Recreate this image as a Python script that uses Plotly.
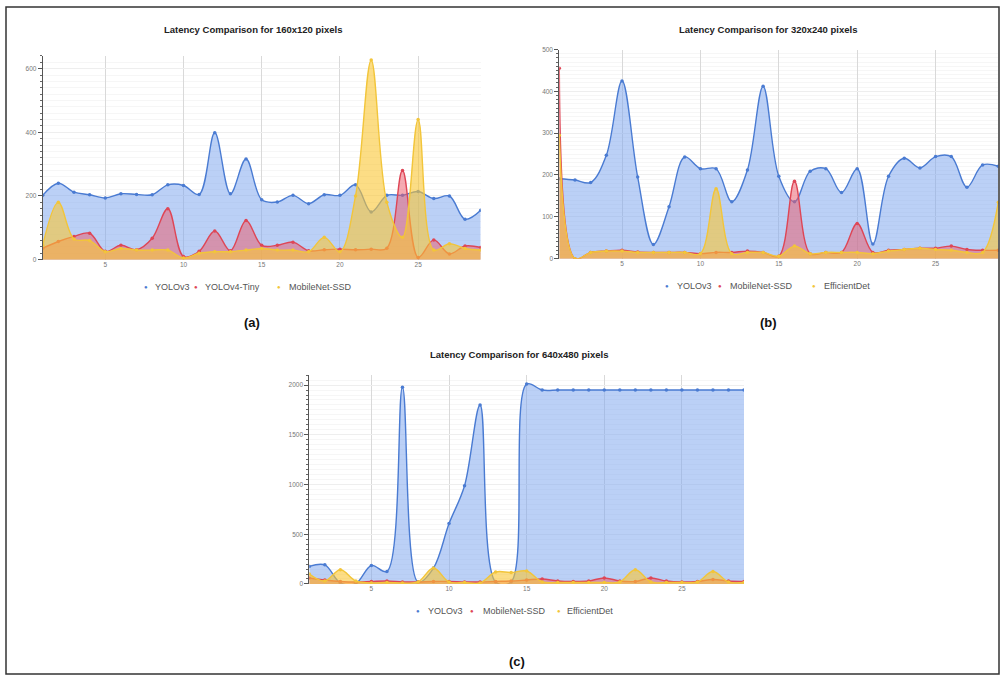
import plotly.graph_objects as go

# ---------------- data ----------------
x_vals = list(range(1, 30))
x_tick_vals = [5, 10, 15, 20, 25]

# (a) 160x120
a_yolov3 = [202, 240, 212, 204, 194, 207, 205, 204, 235, 233, 205, 399, 207, 316, 188,
            181, 202, 176, 204, 202, 235, 150, 202, 202, 214, 192, 200, 127, 155]
a_yolov4_tiny = [36, 57, 73, 83, 26, 45, 31, 67, 160, 10, 26, 90, 28, 123, 45,
                 45, 55, 28, 31, 33, 31, 33, 36, 280, 7, 62, 18, 43, 38]
a_mobilenet_ssd = [45, 180, 65, 60, 25, 35, 30, 30, 30, 5, 20, 25, 25, 30, 35,
                   30, 30, 25, 70, 25, 200, 627, 180, 70, 440, 30, 50, 35, 30]

# (b) 320x240
b_yolov3 = [191, 188, 182, 247, 425, 195, 34, 124, 243, 215, 215, 136, 212, 412, 197,
            136, 209, 215, 158, 215, 35, 197, 240, 217, 244, 244, 171, 224, 221]
b_mobilenet_ssd = [455, 0, 15, 18, 20, 16, 15, 15, 15, 12, 15, 15, 18, 15, 6,
                   185, 12, 15, 15, 84, 15, 20, 22, 25, 25, 30, 22, 20, 20]
b_efficientdet = [295, 0, 15, 18, 18, 15, 15, 15, 15, 12, 167, 12, 15, 15, 6,
                  30, 12, 15, 15, 15, 12, 18, 22, 25, 22, 20, 15, 15, 135]

# (c) 640x480
c_yolov3 = [176, 192, 10, 5, 186, 126, 1977, 20, 160, 607, 988, 1800, 20, 20, 2010,
            1950, 1950, 1950, 1950, 1950, 1950, 1950, 1950, 1950, 1950, 1950, 1950, 1950, 1950]
c_mobilenet_ssd = [60, 40, 25, 20, 25, 30, 20, 20, 25, 25, 20, 20, 25, 30, 40,
                   50, 30, 25, 30, 60, 30, 25, 60, 30, 20, 25, 45, 30, 25]
c_efficientdet = [100, 30, 143, 30, 10, 15, 10, 20, 160, 20, 15, 10, 120, 115, 130,
                  20, 15, 15, 15, 15, 20, 143, 20, 15, 15, 20, 126, 20, 15]

titles = ["Latency Comparison for 160x120 pixels",
          "Latency Comparison for 320x240 pixels",
          "Latency Comparison for 640x480 pixels"]
panel_labels = ["(a)", "(b)", "(c)"]
names_a = ["YOLOv3", "YOLOv4-Tiny", "MobileNet-SSD"]
names_bc = ["YOLOv3", "MobileNet-SSD", "EfficientDet"]

# ---------------- style ----------------
W, H = 1000, 679
def px(v): return v / W
def py(v): return 1 - v / H

BLUE = dict(line="#4a7bd2", fill="rgba(125,165,238,0.52)")
RED = dict(line="#de4656", fill="rgba(236,92,108,0.52)")
YEL = dict(line="#f2c53a", fill="rgba(250,198,52,0.60)")
colors = [BLUE, RED, YEL]

panels = [
    dict(ax="", data=[a_yolov3, a_yolov4_tiny, a_mobilenet_ssd], names=names_a,
         xd=[42.7, 480.7], yd=[258.3, 52.5], yr=[0, 640], dt=200,
         title_xy=(253, 26), leg_y=286,
         leg=[(146, 153), (196, 203), (279, 287)], lab_xy=(252, 322)),
    dict(ax="2", data=[b_yolov3, b_mobilenet_ssd, b_efficientdet], names=names_bc,
         xd=[559.3, 998.3], yd=[257.3, 46], yr=[0, 500], dt=100,
         title_xy=(768, 26), leg_y=285,
         leg=[(667, 675), (720, 728), (814, 822)], lab_xy=(768, 322)),
    dict(ax="3", data=[c_yolov3, c_mobilenet_ssd, c_efficientdet], names=names_bc,
         xd=[309.3, 744], yd=[586, 375], yr=[0, 2100], dt=500,
         title_xy=(519, 354), leg_y=613,
         leg=[(418, 426), (472, 481), (559, 565)], lab_xy=(517, 664)),
]

fig = go.Figure()
annotations = []
layout_axes = {}

for i, p in enumerate(panels):
    ax = p["ax"]
    for vals, name, col in zip(p["data"], p["names"], colors):
        fig.add_trace(go.Scatter(
            x=x_vals, y=vals, name=name, xaxis="x" + ax, yaxis="y" + ax,
            mode="lines+markers", fill="tozeroy", fillcolor=col["fill"],
            line=dict(color=col["line"], width=1.4, shape="spline", smoothing=1),
            marker=dict(size=3.5, color=col["line"]),
            showlegend=False))
    layout_axes["xaxis" + ax] = dict(
        domain=[px(p["xd"][0]), px(p["xd"][1])], anchor="y" + ax,
        range=[1, 29], tickvals=x_tick_vals, showgrid=True, gridcolor="#d9d9d9",
        gridwidth=1, zeroline=False, showline=False, ticks="",
        tickfont=dict(size=6.5, color="#777", family="Liberation Sans, Arial"))
    layout_axes["yaxis" + ax] = dict(
        domain=[py(p["yd"][0]), py(p["yd"][1])], anchor="x" + ax,
        range=p["yr"], dtick=p["dt"], showline=True, linecolor="#555", linewidth=1,
        ticks="outside", ticklen=4, tickcolor="#555", showgrid=True,
        gridcolor="#eeeeee", zeroline=False,
        minor=dict(dtick=p["dt"] / 10, ticks="outside", ticklen=2, tickcolor="#666",
                   showgrid=True, gridcolor="#f6f6f6"),
        tickfont=dict(size=6.5, color="#777", family="Liberation Sans, Arial"))
    annotations.append(dict(
        text="<b>" + titles[i] + "</b>", x=px(p["title_xy"][0]),
        y=py(p["title_xy"][1]), xref="paper", yref="paper", showarrow=False,
        xanchor="center", yanchor="middle",
        font=dict(size=9.5, color="#222", family="Liberation Sans, Arial")))
    for (dx, tx), name, col in zip(p["leg"], p["names"], colors):
        annotations.append(dict(
            text="●", x=px(dx), y=py(p["leg_y"]), xref="paper", yref="paper",
            showarrow=False, xanchor="center", yanchor="middle",
            font=dict(size=6, color=col["line"])))
        annotations.append(dict(
            text=name, x=px(tx), y=py(p["leg_y"]), xref="paper", yref="paper",
            showarrow=False, xanchor="left", yanchor="middle",
            font=dict(size=9, color="#555", family="Liberation Sans, Arial")))
    annotations.append(dict(
        text="<b>" + panel_labels[i] + "</b>", x=px(p["lab_xy"][0]),
        y=py(p["lab_xy"][1]), xref="paper", yref="paper", showarrow=False,
        xanchor="center", yanchor="middle",
        font=dict(size=13, color="#111", family="Liberation Sans, Arial")))

fig.update_layout(
    width=W, height=H, margin=dict(l=0, r=0, t=0, b=0),
    paper_bgcolor="white", plot_bgcolor="white",
    showlegend=False, annotations=annotations,
    shapes=[dict(type="rect", xref="paper", yref="paper",
                 x0=px(6), x1=px(999), y0=py(677), y1=py(3),
                 line=dict(color="#333", width=1.5))],
    **layout_axes)

fig.write_html("out.html", config={"displayModeBar": False},
               post_script="document.body.style.margin='0';document.body.style.overflow='hidden';")
